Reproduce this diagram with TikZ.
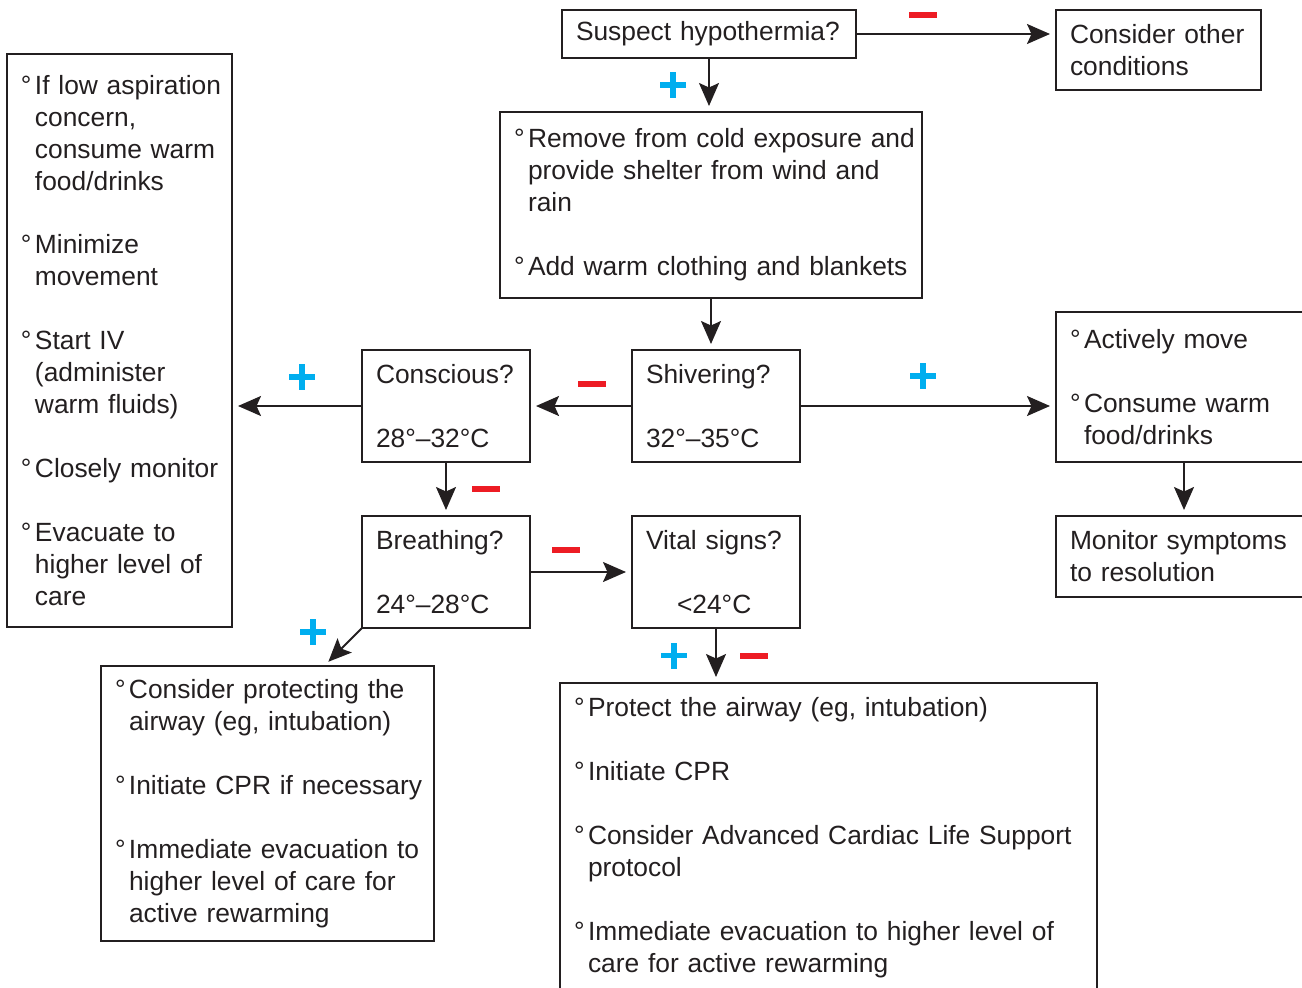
\documentclass[tikz,border=0pt]{standalone}
\usepackage{fontspec}
\setmainfont{Liberation Sans}
\usepackage{xcolor}
\usepackage{tikz}
\usetikzlibrary{positioning}
\usetikzlibrary{shapes,arrows.meta,positioning,calc}
\definecolor{plusblue}{RGB}{0,174,239}
\definecolor{minusred}{RGB}{237,28,36}
\definecolor{inkgray}{RGB}{35,31,32}
\tikzstyle{block} = [rectangle, draw=inkgray, text=inkgray, line width=1.2pt,
inner xsep=0.28cm, inner ysep=0pt, outer sep=0pt, align=left, font=\fontsize{15}{18.2}\selectfont,
execute at begin node={\rightskip=0pt plus 1fil minus 0.5cm}]
\tikzstyle{line} = [draw=inkgray, line width=1.1pt, -{Stealth[length=0.46cm,width=0.4cm,inset=0.09cm]}, shorten >=0.12cm]
\tikzstyle{nomark} = [fill=minusred, minimum width=0.56cm, minimum height=0.12cm, inner sep=0pt]
\tikzstyle{yesmark} = [minimum size=0.52cm, inner sep=0pt,
path picture={\fill[plusblue] ([yshift=-0.055cm]path picture bounding box.west) rectangle ([yshift=0.055cm]path picture bounding box.east);
\fill[plusblue] ([xshift=-0.055cm]path picture bounding box.north) rectangle ([xshift=0.055cm]path picture bounding box.south);}]
\newcommand{\bpt}[1]{{\let\\\newline\hangindent=0.28cm\hangafter=1\relax\makebox[0.28cm][l]{°}#1\par}}
\newcommand{\itemgap}{\vspace{18.2pt}}

\begin{document}
\begin{tikzpicture}[node distance = 2cm]
\useasboundingbox (0,0) rectangle (26.04,-19.74);
\clip (0,0) rectangle (26.04,-19.74);
    % nodes
\node [block, text width=5.32cm, minimum height=0.96cm] (sus) at (14.18,-0.68) {Suspect hypothermia?};
\node [block, text width=3.54cm, minimum height=1.6cm, right=4cm of sus.north east, anchor=north west] (oth) {Consider other\\conditions};
\node [block, text width=7.88cm, minimum height=3.72cm, below=1.08cm of sus, xshift=0.04cm] (rem) {\bpt{Remove from cold exposure and\\provide shelter from wind and\\rain}\itemgap\bpt{Add warm clothing and blankets}};
\node [block, text width=2.8cm, minimum height=2.24cm, below=1.04cm of rem, xshift=0.1cm] (shiv) {Shivering?\\[18.2pt]32°–35°C};
\node [block, text width=2.8cm, minimum height=2.24cm, left=2.04cm of shiv] (con) {Conscious?\\[18.2pt]28°–32°C};
\node [block, text width=3.94cm, minimum height=11.46cm, left=2.6cm of con, yshift=1.31cm] (lft) {\bpt{If low aspiration\\concern,\\consume warm\\food/drinks}\itemgap\bpt{Minimize\\movement}\itemgap\bpt{Start IV\\(administer\\warm fluids)}\itemgap\bpt{Closely monitor}\itemgap\bpt{Evacuate to\\higher level of\\care}};
\node [block, text width=4.56cm, minimum height=3cm, right=5.12cm of shiv, yshift=0.38cm] (act) {\bpt{Actively move}\itemgap\bpt{Consume warm\\food/drinks}};
\node [block, text width=4.56cm, minimum height=1.62cm, below=1.08cm of act] (mon) {Monitor symptoms\\to resolution};
\node [block, text width=2.8cm, minimum height=2.24cm, below=1.08cm of con] (brt) {Breathing?\\[18.2pt]24°–28°C};
\node [block, text width=2.8cm, minimum height=2.24cm, below=1.08cm of shiv] (vit) {Vital signs?\\[18.2pt]\hspace*{0.62cm}<24°C};
\node [block, text width=6.1cm, minimum height=5.5cm, below left=0.76cm and -1.44cm of brt] (cpr) {\bpt{Consider protecting the\\airway (eg, intubation)}\itemgap\bpt{Initiate CPR if necessary}\itemgap\bpt{Immediate evacuation to\\higher level of care for\\active rewarming}};
\node [block, text width=10.18cm, minimum height=6.2cm, below right=1.1cm and -4.8cm of vit] (prot) {\bpt{Protect the airway (eg, intubation)}\itemgap\bpt{Initiate CPR}\itemgap\bpt{Consider Advanced Cardiac Life Support\\protocol}\itemgap\bpt{Immediate evacuation to higher level of\\care for active rewarming}};

%edges
\path [line] (sus.east) -- (sus.east -| oth.west) node[nomark, pos=0.335, yshift=0.38cm] {};
\path [line] (sus.south) -- (sus.south |- rem.north) node[yesmark, pos=0.5, xshift=-0.72cm] {};
\path [line] (rem.south) -- (rem.south |- shiv.north);
\path [line] (shiv.west) -- (con.east) node[nomark, pos=0.39, yshift=0.44cm] {};
\path [line] (con.west) -- (con.west -| lft.east) node[yesmark, pos=0.46, yshift=0.58cm] {};
\path [line] (shiv.east) -- (shiv.east -| act.west) node[yesmark, pos=0.48, yshift=0.6cm] {};
\path [line] (act.south) -- (mon.north);
\path [line] (con.south) -- (brt.north) node[nomark, pos=0.5, xshift=0.8cm] {};
\path [line] (brt.east) -- (vit.west) node[nomark, pos=0.35, yshift=0.44cm] {};
\path [line] (brt.south west) -- ($(cpr.north west)!0.67!(cpr.north east)$) node[yesmark, pos=0.1, xshift=-0.9cm] {};
\path [line] (vit.south) -- (vit.south |- prot.north) node[yesmark, pos=0.5, xshift=-0.84cm] {} node[nomark, pos=0.5, xshift=0.76cm] {};

\end{tikzpicture}
\end{document}
